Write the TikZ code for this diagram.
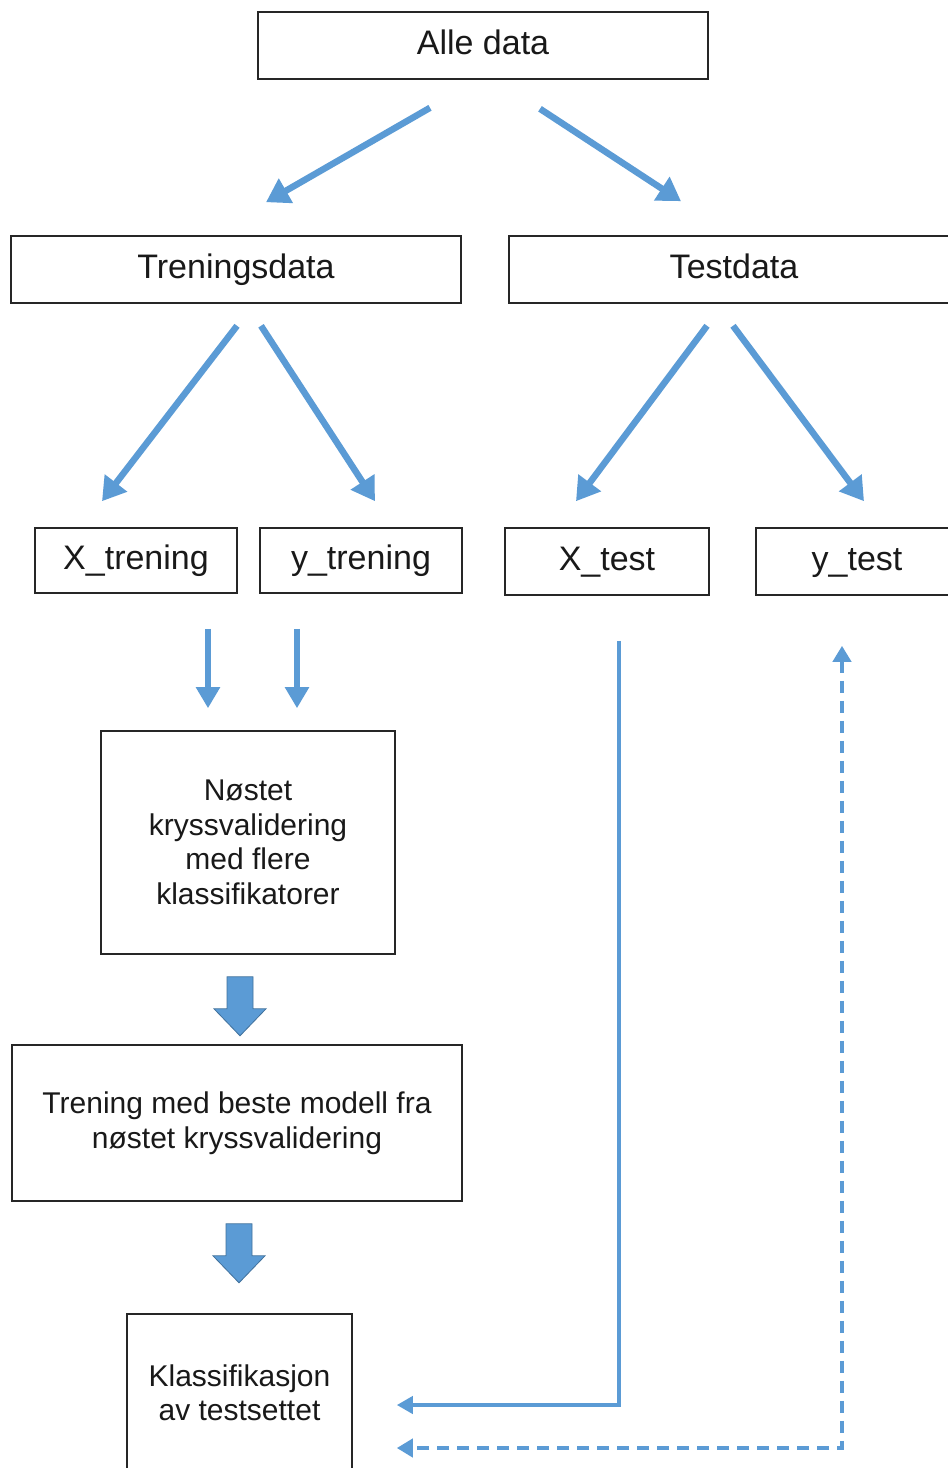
\documentclass[tikz,border=0pt]{standalone}
\usepackage{fontspec}
\setmainfont{Liberation Sans}
\usetikzlibrary{arrows.meta,calc}
\definecolor{flowblue}{HTML}{5B9BD5}
\definecolor{flowblueedge}{HTML}{41719C}
\definecolor{boxline}{HTML}{262626}

\begin{document}
\begin{tikzpicture}[x=1pt,y=-1pt,
  box/.style={draw=boxline, line width=1.6pt, inner sep=0pt, text=black!90},
  bigtext/.style={font=\fontsize{34}{40}\selectfont, text height=24pt, text depth=7pt},
  smalltext/.style={font=\fontsize{30}{34.5}\selectfont, align=center},
  splitarrow/.style={draw=flowblue, line width=6.5pt, -{Triangle[width=27pt,length=23pt]}},
  feedarrow/.style={draw=flowblue, line width=5.5pt, -{Triangle[width=23pt,length=21pt]}},
  routearrow/.style={draw=flowblue, line width=4.5pt, -{Triangle[width=17pt,length=16pt]}},
  dasharrow/.style={draw=flowblue, line width=4.5pt, dash pattern=on 12pt off 8pt,
    {Triangle[width=18pt,length=16pt]}-{Triangle[width=18pt,length=16pt]}},
  pics/blockdown/.style={code={
    \path[fill=flowblue, draw=flowblueedge, line width=0.8pt, line join=miter]
      (-13,0) -- (13,0) -- (13,32) -- (26,32) -- (0,59) -- (-26,32) -- (-13,32) -- cycle;}}
]
\clip (0,0) rectangle (948,1468);
\fill[white] (0,0) rectangle (948,1468);

% boxes
\node[box, bigtext, minimum width=450pt, minimum height=67pt] (alle) at (483,45.5) {Alle data};
\node[box, bigtext, minimum width=450pt, minimum height=67pt] (tren) at (236,269.5) {Treningsdata};
\node[box, bigtext, minimum width=450pt, minimum height=67pt] (test) at (734,269.5) {Testdata};
\node[box, bigtext, minimum width=202pt, minimum height=65pt] (xtr) at (136,560.5) {X\_trening};
\node[box, bigtext, minimum width=202pt, minimum height=65pt] (ytr) at (361,560.5) {y\_trening};
\node[box, bigtext, minimum width=204pt, minimum height=67pt] (xte) at (607,561.5) {X\_test};
\node[box, bigtext, minimum width=202pt, minimum height=67pt] (yte) at (857,561.5) {y\_test};
\node[box, smalltext, minimum width=294pt, minimum height=223pt] (nest) at (248,842.5)
  {Nøstet\\kryssvalidering\\med flere\\klassifikatorer};
\node[box, smalltext, minimum width=450pt, minimum height=156pt] (tmed) at (237,1123)
  {Trening med beste modell fra\\nøstet kryssvalidering};
\node[box, smalltext, minimum width=225pt, minimum height=158pt] (klass) at (239.5,1393)
  {Klassifikasjon\\av testsettet};

% splitting the data
\draw[splitarrow] ($(alle.south)+(-53,28)$) -- ($(tren.north)+(30,-33)$);
\draw[splitarrow] ($(alle.south)+(57,29)$) -- ($(test.north)+(-53,-34)$);
\draw[splitarrow] ($(tren.south)+(1,22)$) -- ($(xtr.north)+(-34,-26)$);
\draw[splitarrow] ($(tren.south)+(25,22)$) -- ($(ytr.north)+(14,-26)$);
\draw[splitarrow] ($(test.south)+(-27,22)$) -- ($(xte.north)+(-31,-26)$);
\draw[splitarrow] ($(test.south)+(-1,22)$) -- ($(yte.north)+(7,-26)$);

% training inputs
\draw[feedarrow] ($(xtr.south)+(72,35)$) -- ($(nest.north)+(-40,-22)$);
\draw[feedarrow] ($(ytr.south)+(-64,35)$) -- ($(nest.north)+(49,-22)$);

% block arrows between the stages
\coordinate (b1) at ($(nest.south)+(-8,22)$);
\coordinate (b2) at ($(tmed.south)+(2,22)$);
\pic at (b1) {blockdown};
\pic at (b2) {blockdown};

% test data routed to the classification step
\draw[routearrow] ($(xte.south)+(12,45)$) |- ($(klass.east)+(44,12)$);
\draw[dasharrow] ($(yte.south)+(-15,50)$) |- ($(klass.east)+(44,55)$);
\end{tikzpicture}
\end{document}
